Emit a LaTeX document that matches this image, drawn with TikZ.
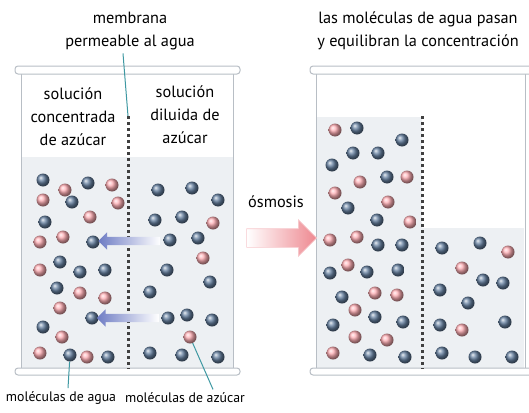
\documentclass[tikz,border=0pt]{standalone}
\usepackage{fontspec}
\setmainfont{PT Sans}
\usetikzlibrary{shapes.arrows,calc}
\definecolor{waterblue}{HTML}{6580A0}
\definecolor{sugarpink}{HTML}{FFAEB4}
\definecolor{pointer}{HTML}{3E98A2}
\definecolor{liquid}{HTML}{EDF0F3}
\definecolor{glass}{HTML}{B8BEC5}
\definecolor{flowblue}{HTML}{6E7CC4}
\definecolor{osmpink}{HTML}{EE8890}
\tikzset{
  water/.style={circle, inner sep=0pt, minimum size=13pt, ball color=waterblue},
  sugar/.style={circle, inner sep=0pt, minimum size=13pt, ball color=sugarpink},
  label/.style={align=center, font=\fontsize{16.3}{23}\selectfont},
  small label/.style={align=center, font=\fontsize{13.8}{20}\selectfont},
  membrane/.style={line width=3pt, black!75, dash pattern=on 3pt off 3pt},
  flowarrow/.style={single arrow, shape border rotate=180, inner xsep=0pt, inner ysep=4pt,
    single arrow head extend=4.5pt, left color=flowblue, middle color=flowblue!65, right color=white},
  pointer line/.style={pointer, line width=1pt}
}
\begin{document}
\begin{tikzpicture}[x=1pt, y=-1pt]
\useasboundingbox (0,0) rectangle (529,412);
% beakers
\fill[liquid] (22,157) rectangle (233,368);
\fill[liquid] (317,117) rectangle (422,368);
\fill[liquid] (422,228) rectangle (524,368);
\draw[glass, line width=0.8pt] (21,73) -- (21,368) (233,73) -- (233,368);
\draw[glass, line width=0.8pt] (316,73) -- (316,368) (525,73) -- (525,368);
\draw[glass, line width=1pt, fill=white, rounded corners=3pt] (15,66) rectangle (240,74);
\draw[glass, line width=1pt, fill=white, rounded corners=3pt] (310,66) rectangle (535,74);
\draw[glass, line width=1pt, fill=white, rounded corners=3pt] (15,368) rectangle (240,375);
\draw[glass, line width=1pt, fill=white, rounded corners=3pt] (310,368) rectangle (535,375);
% membranes
\coordinate (mtopL) at (128,116);
\coordinate (mbotL) at (128,369);
\coordinate (mtopR) at (422,116);
\coordinate (mbotR) at (422,369);
\draw[membrane] (mtopL) -- (mbotL);
\draw[membrane] (mtopR) -- (mbotR);
% texts
\node[label] (memb) at (130,31) {membrana\\permeable al agua};
\node[label] (title) at (418,31) {las moléculas de agua pasan\\y equilibran la concentración};
\node[label] (conc) at (73,117) {solución\\concentrada\\de azúcar};
\node[label] (dil) at (185,115) {solución\\diluida de\\azúcar};
\node[label] (osm) at (276,202) {ósmosis};
\node[small label] (lbw) at (61,398) {moléculas de agua};
\node[small label] (lbs) at (185,398) {moléculas de azúcar};
% molecules before
\foreach \x/\y in {43/180, 88/183, 72/202, 45/222, 60/262, 80/272, 105/270, 57/288, 43/327, 108/357,
  158/190, 192/188, 218/200, 155/220, 182/217, 198/238, 167/270, 150/292, 210/282, 187/315, 212/320,
  150/353, 182/355, 218/357}
  \node[water] at (\x,\y) {};
\foreach \x/\y in {65/190, 112/185, 43/200, 118/203, 90/217, 40/242, 63/237, 40/270, 80/293, 105/298,
  60/308, 62/337, 40/353, 87/357, 213/223, 203/258}
  \node[sugar] at (\x,\y) {};
\node[water] (wa1) at (93,242) {};
\node[water] (wb1) at (170,240) {};
\node[water] (wa2) at (92,318) {};
\node[water] (wb2) at (168,318) {};
\node[water] (wpt) at (70,355) {};
\node[sugar] (spt) at (190,337) {};
% molecules after
\foreach \x/\y in {357/128, 402/140, 353/153, 378/153, 332/165, 387/177, 348/208, 377/220, 378/245,
  402/245, 330/273, 367/272, 398/270, 342/297, 375/317, 333/325, 403/322, 370/355, 405/357,
  442/248, 480/243, 483/280, 503/283, 440/290, 468/303, 440/325, 505/322, 442/353, 475/357, 512/357}
  \node[water] at (\x,\y) {};
\foreach \x/\y in {335/130, 360/182, 407/177, 335/193, 388/202, 410/222, 330/240, 357/237, 348/265,
  375/293, 397/295, 355/310, 355/337, 387/340, 333/353, 508/252, 462/268, 462/330}
  \node[sugar] at (\x,\y) {};
% water crossing the membrane
\path (wb1) -- (wa1) node[midway, flowarrow, minimum height=62pt] (f1) {};
\path (wb2) -- (wa2) node[midway, flowarrow, minimum height=62pt] (f2) {};
\node[single arrow, inner xsep=0pt, inner ysep=9pt, single arrow head extend=9pt,
  minimum height=70pt, draw=osmpink!45, line width=0.6pt, left color=white,
  middle color=osmpink!40, right color=osmpink] (osmarrow) at (277,238) {};
% pointers
\draw[pointer line] ([xshift=-7pt]memb.south) -- (mtopL);
\draw[pointer line] (wpt) -- ([xshift=7pt]lbw.north);
\draw[pointer line] (spt) -- ([xshift=28pt]lbs.north);
\end{tikzpicture}
\end{document}
